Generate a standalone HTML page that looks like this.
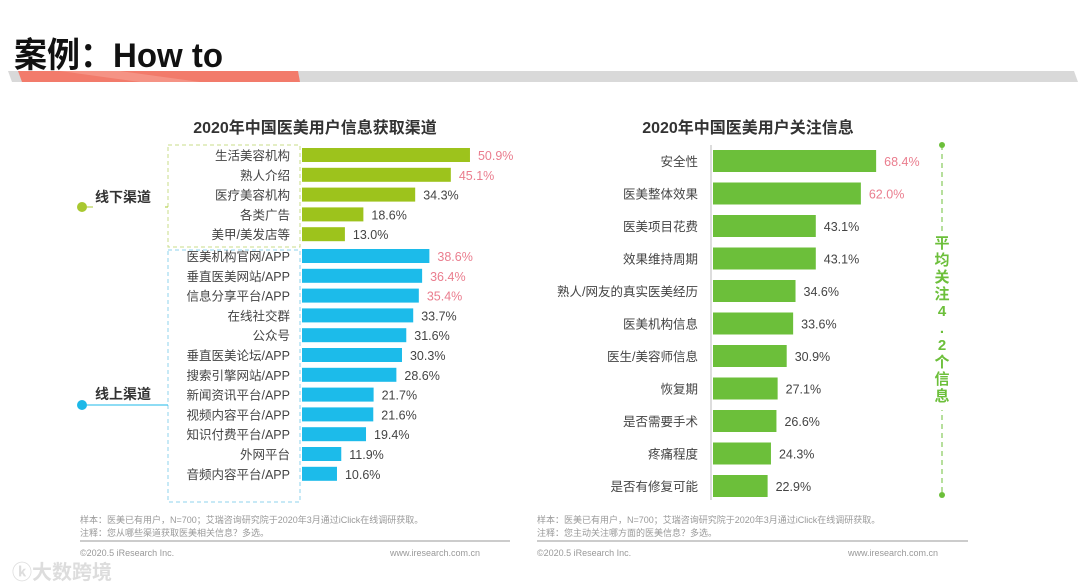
<!DOCTYPE html>
<html><head><meta charset="utf-8"><style>
body{margin:0;width:1080px;height:588px;background:#fff;overflow:hidden;position:relative;font-family:"Liberation Sans","Noto Sans CJK SC",sans-serif}
.abs{position:absolute}
.fn{font-size:9px;color:#999;line-height:13px}
</style></head><body>
<div class="abs" style="left:14px;top:27px;font-size:33px;font-weight:bold;color:#111;transform:scaleY(1.05);transform-origin:top left">案例：How to</div>
<svg class="abs" style="left:0;top:0" width="1080" height="588">
 <polygon points="8,71 1074,71 1078,82 12,82" fill="#d9d9d9"/>
 <polygon points="18,71 298,71 300,82 22,82" fill="#f27b6b"/>
 <polygon points="60,71 120,71 200,82 140,82" fill="#f59a8c" opacity="0.8"/>
 <text x="315" y="133" font-size="16" font-weight="bold" fill="#333" text-anchor="middle">2020年中国医美用户信息获取渠道</text>
 <text x="748" y="133" font-size="16" font-weight="bold" fill="#333" text-anchor="middle">2020年中国医美用户关注信息</text>
 <rect x="168" y="145" width="132" height="102" fill="none" stroke="#c8dc8a" stroke-dasharray="4,3"/>
 <rect x="168" y="250" width="132" height="252" fill="none" stroke="#8fd3ee" stroke-dasharray="4,3"/>
 <line x1="82" y1="207" x2="168" y2="207" stroke="#a8c830"/>
 <circle cx="82" cy="207" r="5" fill="#a8c830"/>
 <rect x="93" y="196" width="72" height="20" fill="#fff"/>
 <text x="95" y="202" font-size="14" font-weight="bold" fill="#333">线下渠道</text>
 <line x1="82" y1="405" x2="168" y2="405" stroke="#1cb8e8"/>
 <circle cx="82" cy="405" r="5" fill="#1cb8e8"/>
 <rect x="93" y="384" width="72" height="20" fill="#fff"/>
 <text x="95" y="399" font-size="14" font-weight="bold" fill="#333">线上渠道</text>
 <line x1="711" y1="145" x2="711" y2="500" stroke="#bbb"/>
 <line x1="942" y1="145" x2="942" y2="495" stroke="#6cbf3a" stroke-dasharray="5,4"/>
 <circle cx="942" cy="145" r="3" fill="#6cbf3a"/><circle cx="942" cy="495" r="3" fill="#6cbf3a"/>
 <rect x="932" y="232" width="20" height="178" fill="#fff"/>
 <g id="left"></g><g id="right"></g>
 <line x1="80" y1="541" x2="510" y2="541" stroke="#999"/>
 <line x1="537" y1="541" x2="968" y2="541" stroke="#999"/>
</svg>
<div class="abs" style="left:933px;top:235px;width:18px;font-size:15px;font-weight:bold;color:#6cbf3a;line-height:17px;text-align:center">平<br>均<br>关<br>注<br>4<br>.<br>2<br>个<br>信<br>息</div>
<div class="abs fn" style="left:80px;top:514px">样本：医美已有用户，N=700；艾瑞咨询研究院于2020年3月通过iClick在线调研获取。<br>注释：您从哪些渠道获取医美相关信息？多选。</div>
<div class="abs fn" style="left:537px;top:514px">样本：医美已有用户，N=700；艾瑞咨询研究院于2020年3月通过iClick在线调研获取。<br>注释：您主动关注哪方面的医美信息？多选。</div>
<div class="abs fn" style="left:80px;top:547px">©2020.5 iResearch Inc.</div>
<div class="abs fn" style="left:390px;top:547px">www.iresearch.com.cn</div>
<div class="abs fn" style="left:537px;top:547px">©2020.5 iResearch Inc.</div>
<div class="abs fn" style="left:848px;top:547px">www.iresearch.com.cn</div>
<div class="abs" style="left:12px;top:556px;font-size:20px;color:#ddd;font-weight:bold">ⓚ大数跨境</div>
<script>
const leftCats=["生活美容机构","熟人介绍","医疗美容机构","各类广告","美甲/美发店等","医美机构官网/APP","垂直医美网站/APP","信息分享平台/APP","在线社交群","公众号","垂直医美论坛/APP","搜索引擎网站/APP","新闻资讯平台/APP","视频内容平台/APP","知识付费平台/APP","外网平台","音频内容平台/APP"];
const leftVals=[50.9,45.1,34.3,18.6,13.0,38.6,36.4,35.4,33.7,31.6,30.3,28.6,21.7,21.6,19.4,11.9,10.6];
const leftOffline=5;
const rightCats=["安全性","医美整体效果","医美项目花费","效果维持周期","熟人/网友的真实医美经历","医美机构信息","医生/美容师信息","恢复期","是否需要手术","疼痛程度","是否有修复可能"];
const rightVals=[68.4,62.0,43.1,43.1,34.6,33.6,30.9,27.1,26.6,24.3,22.9];
const NS="http://www.w3.org/2000/svg";
function mk(t,a,p){const e=document.createElementNS(NS,t);for(const k in a)e.setAttribute(k,a[k]);p.appendChild(e);return e;}
const lx=v=>v*3.3, ly=i=>155+i*19.8+(i>=leftOffline?2:0);
const rx=v=>v*2.385, ry=i=>161+i*32.5;
const L=document.getElementById('left');
leftCats.forEach((c,i)=>{
 const y=ly(i);
 const r=mk('rect',{x:302,y:y-7,width:lx(leftVals[i]),height:14,fill:i<leftOffline?'#9dc31c':'#1cbbea'},L);
 
 
 const t=mk('text',{x:290,y:y+5,'font-size':12.5,fill:'#444','text-anchor':'end'},L);t.textContent=c;
 
 
 const red=(i<2)||(i>=5&&i<8);
 const v=mk('text',{x:302+lx(leftVals[i])+8,y:y+5,'font-size':12.5,fill:red?'#ea7d8e':'#444'},L);v.textContent=leftVals[i].toFixed(1)+'%';
 
 
});
const R=document.getElementById('right');
rightCats.forEach((c,i)=>{
 const y=ry(i);
 const r=mk('rect',{x:713,y:y-11,width:rx(rightVals[i]),height:22,fill:'#6cbf3a'},R);
 
 
 const t=mk('text',{x:698,y:y+5,'font-size':12.5,fill:'#444','text-anchor':'end'},R);t.textContent=c;
 
 
 const v=mk('text',{x:713+rx(rightVals[i])+8,y:y+5,'font-size':12.5,fill:i<2?'#ea7d8e':'#444'},R);v.textContent=rightVals[i].toFixed(1)+'%';
 
 
});
</script>
</body></html>
